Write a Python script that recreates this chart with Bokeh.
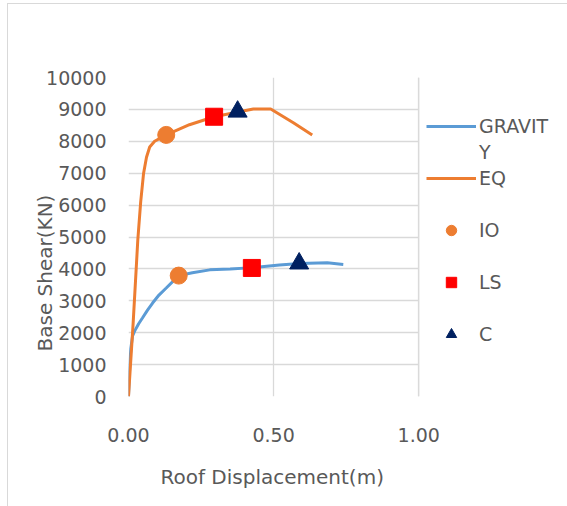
from bokeh.plotting import figure
from bokeh.models import Legend, LegendItem, Title, FixedTicker, NumeralTickFormatter, BoxAnnotation, Span
from bokeh.embed import file_html
from bokeh.resources import INLINE

# ---- data ----
gravity_x = [0.0, 0.004, 0.008, 0.014, 0.021, 0.035, 0.048, 0.065, 0.083, 0.105, 0.13, 0.173, 0.22, 0.28, 0.35, 0.43, 0.52, 0.59, 0.685, 0.74]
gravity_y = [0, 900, 1500, 1900, 2050, 2280, 2460, 2700, 2930, 3180, 3400, 3790, 3880, 3970, 4000, 4040, 4120, 4170, 4190, 4140]

eq_x = [0.0, 0.016, 0.032, 0.042, 0.052, 0.062, 0.073, 0.09, 0.13, 0.21, 0.295, 0.36, 0.43, 0.49, 0.568, 0.633]
eq_y = [0, 2300, 4900, 6100, 7000, 7500, 7820, 8000, 8200, 8520, 8770, 8890, 9010, 9010, 8580, 8200]

io_x = [0.13, 0.173]
io_y = [8200, 3790]
ls_x = [0.295, 0.425]
ls_y = [8770, 4030]
c_x = [0.376, 0.588]
c_y = [8930, 4170]

x_ticks = [0.0, 0.5, 1.0]
y_ticks = [0, 1000, 2000, 3000, 4000, 5000, 6000, 7000, 8000, 9000, 10000]

BLUE = "#5B9BD5"
ORANGE = "#ED7D31"
RED = "#FF0000"
NAVY = "#002060"
GRID = "#D9D9D9"
TEXT = "#595959"
FONT = "DejaVu Sans"

# the frame also holds the legend area to the right of x = 1.00; that area is masked white
p = figure(width=560, height=503, output_backend="svg", toolbar_location=None,
           x_range=(0, 1.516), y_range=(0, 10000),
           min_border_left=120, min_border_right=0, min_border_top=73, min_border_bottom=111)
p.margin = (3, 0, 0, 7)
p.styles = {"border-left": "1px solid #D9D9D9", "border-top": "1px solid #D9D9D9"}
p.outline_line_color = None
p.background_fill_color = "white"
p.border_fill_color = "white"

p.xgrid.ticker = FixedTicker(ticks=x_ticks)
p.ygrid.ticker = FixedTicker(ticks=y_ticks)
p.xgrid.grid_line_color = GRID
p.ygrid.grid_line_color = GRID
p.xgrid.grid_line_width = 1.3
p.ygrid.grid_line_width = 1.3

p.xaxis.ticker = FixedTicker(ticks=x_ticks)
p.yaxis.ticker = FixedTicker(ticks=y_ticks)
p.xaxis.formatter = NumeralTickFormatter(format="0.00")
for ax in (p.xaxis, p.yaxis):
    ax.axis_line_color = None
    ax.major_tick_line_color = None
    ax.minor_tick_line_color = None
    ax.major_tick_out = 0
    ax.major_tick_in = 0
    ax.major_label_text_font = FONT
    ax.major_label_text_font_size = "19px"
    ax.major_label_text_color = TEXT
p.xaxis.major_label_standoff = 31
p.yaxis.major_label_standoff = 22

ytitle = Title(text="Base Shear(KN)", align="left", offset=45, standoff=-26,
               text_font=FONT, text_font_size="20px", text_font_style="normal", text_color=TEXT)
p.add_layout(ytitle, "left")
xtitle = Title(text="Roof Displacement(m)", align="left", offset=32, standoff=36,
               text_font=FONT, text_font_size="20px", text_font_style="normal", text_color=TEXT)
p.add_layout(xtitle, "below")

r_grav = p.line(gravity_x, gravity_y, line_color=BLUE, line_width=3)
r_eq = p.line(eq_x, eq_y, line_color=ORANGE, line_width=3)
r_io = p.scatter(io_x, io_y, marker="circle", size=17, fill_color=ORANGE, line_color=ORANGE)
r_ls = p.scatter(ls_x, ls_y, marker="square", size=17, fill_color=RED, line_color=RED)
r_c = p.scatter(c_x, c_y, marker="triangle", size=19, fill_color=NAVY, line_color=NAVY)
blank = p.line([0], [0], line_alpha=0)

mask = BoxAnnotation(left=x_ticks[-1], fill_color="white", fill_alpha=1.0, line_alpha=0)
p.add_layout(mask)
edge = Span(location=x_ticks[-1], dimension="height", line_color=GRID, line_width=1.3)
p.add_layout(edge)

items = [
    LegendItem(label="GRAVIT", renderers=[r_grav]),
    LegendItem(label="Y", renderers=[blank]),
    LegendItem(label="EQ", renderers=[r_eq]),
    LegendItem(label=" ", renderers=[blank]),
    LegendItem(label="IO", renderers=[r_io]),
    LegendItem(label=" ", renderers=[blank]),
    LegendItem(label="LS", renderers=[r_ls]),
    LegendItem(label=" ", renderers=[blank]),
    LegendItem(label="C", renderers=[r_c]),
]
legend = Legend(items=items, location=(298, 49), margin=0, padding=0, spacing=0,
                glyph_width=50, glyph_height=26, label_height=26, label_standoff=3,
                label_text_font=FONT, label_text_font_size="19px", label_text_color=TEXT,
                border_line_alpha=0, background_fill_alpha=0)
p.add_layout(legend)

open("out.html", "w").write(file_html(p, INLINE))
